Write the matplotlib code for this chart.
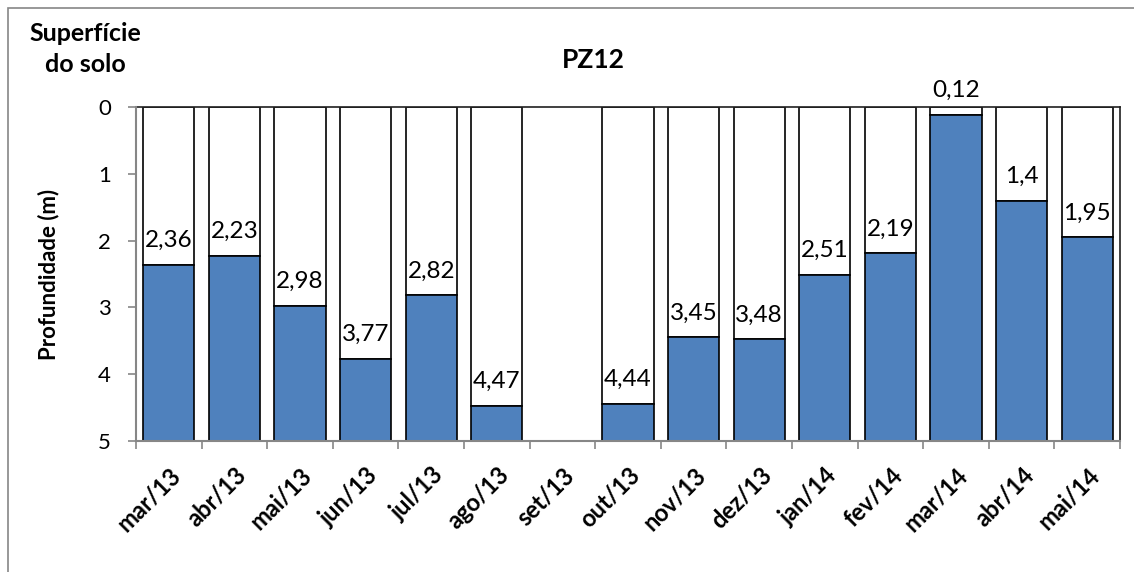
import numpy as np
import matplotlib.pyplot as plt
from matplotlib.patches import Rectangle

# Data
meses = ['mar/13', 'abr/13', 'mai/13', 'jun/13', 'jul/13', 'ago/13', 'set/13',
         'out/13', 'nov/13', 'dez/13', 'jan/14', 'fev/14', 'mar/14', 'abr/14', 'mai/14']
profundidade = [2.36, 2.23, 2.98, 3.77, 2.82, 4.47, np.nan,
                4.44, 3.45, 3.48, 2.51, 2.19, 0.12, 1.4, 1.95]
rotulos = ['2,36', '2,23', '2,98', '3,77', '2,82', '4,47', '',
           '4,44', '3,45', '3,48', '2,51', '2,19', '0,12', '1,4', '1,95']
fundo = 5

plt.rcParams['font.family'] = ['Lato', 'DejaVu Sans']

fig = plt.figure(figsize=(11.34, 5.72), dpi=100)
ax = fig.add_axes([136/1134, 1-441/572, 984/1134, 334/572])

# outer chart frame
fig.patches.append(Rectangle((8/1134, -0.1), 1.2, (1-8/572)+0.1, transform=fig.transFigure,
                             fill=False, edgecolor='#868686', lw=1.2))

x = np.arange(len(meses))
prof = np.array(profundidade)
ok = ~np.isnan(prof)

# white part (surface -> water level) and blue part (water level -> bottom)
ax.bar(x[ok], prof[ok], bottom=0, width=0.78, color='white', edgecolor='black', lw=1.2, zorder=2)
ax.bar(x[ok], fundo - prof[ok], bottom=prof[ok], width=0.78, color='#4F81BD', edgecolor='black', lw=1.2, zorder=2)

for xi, v, t in zip(x, prof, rotulos):
    if np.isnan(v):
        continue
    ax.annotate(t, (xi, v), xytext=(0, 10), textcoords='offset points',
                ha='center', va='bottom', fontsize=17.5)

ax.set_xlim(-0.5, len(meses) - 0.5)
ax.set_ylim(fundo, 0)
ax.set_yticks(range(0, 6))
ax.tick_params(axis='y', labelsize=16, length=6, color='#868686', pad=12, width=1.2)

ax.set_xticks(x)
ax.set_xticklabels(meses, rotation=45, ha='right', rotation_mode='anchor',
                   fontsize=17, fontweight='bold')
ax.set_xticks(np.arange(-0.5, len(meses)), minor=True)
ax.tick_params(axis='x', which='major', length=0, pad=16)
ax.tick_params(axis='x', which='minor', length=6, color='#868686', width=1.2)

for s in ['left', 'bottom']:
    ax.spines[s].set_color('#868686')
    ax.spines[s].set_linewidth(1.5)
for s in ['top', 'right']:
    ax.spines[s].set_color('#202020')
    ax.spines[s].set_linewidth(1.2)
ax.spines['left'].set_zorder(3)
ax.spines['bottom'].set_zorder(3)

ax.set_ylabel('Profundidade (m)', fontsize=16, fontweight='bold', labelpad=28)
fig.text(593/1134, 1-60/572, 'PZ12', ha='center', va='center', fontsize=19, fontweight='bold')
fig.text(85/1134, 1-49/572, 'Superfície\ndo solo', ha='center', va='center',
         fontsize=18, fontweight='bold', linespacing=1.45)

fig.savefig('out.png', dpi=100)
